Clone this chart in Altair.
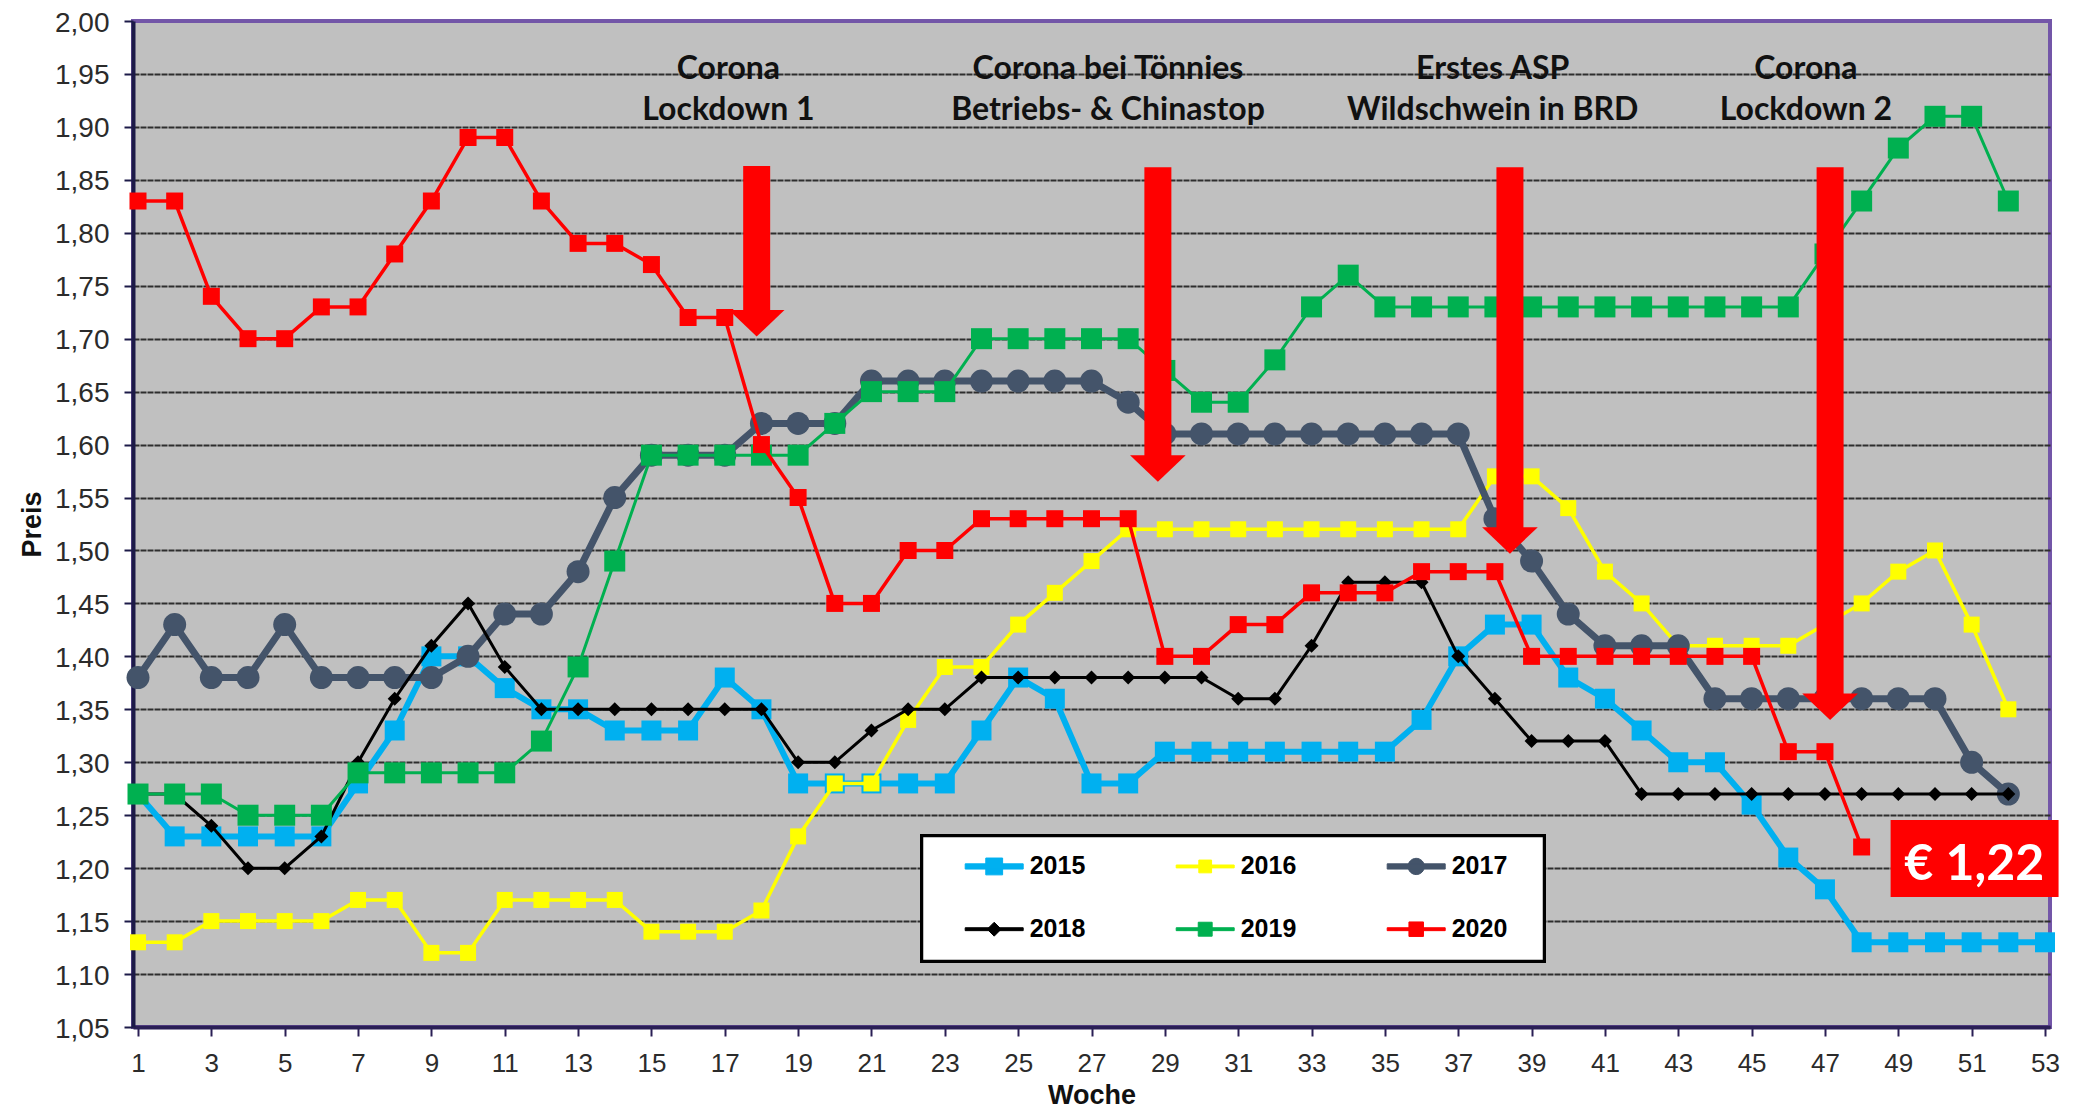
import altair as alt
import pandas as pd

# ---------------- data ----------------
weeks = list(range(1, 54))
years = ["2015", "2016", "2017", "2018", "2019", "2020"]

p2015 = [1.27, 1.23, 1.23, 1.23, 1.23, 1.23, 1.28, 1.33, 1.40, 1.40,
         1.37, 1.35, 1.35, 1.33, 1.33, 1.33, 1.38, 1.35, 1.28, 1.28,
         1.28, 1.28, 1.28, 1.33, 1.38, 1.36, 1.28, 1.28, 1.31, 1.31,
         1.31, 1.31, 1.31, 1.31, 1.31, 1.34, 1.40, 1.43, 1.43, 1.38,
         1.36, 1.33, 1.30, 1.30, 1.26, 1.21, 1.18, 1.13, 1.13, 1.13,
         1.13, 1.13, 1.13]
p2016 = [1.13, 1.13, 1.15, 1.15, 1.15, 1.15, 1.17, 1.17, 1.12, 1.12,
         1.17, 1.17, 1.17, 1.17, 1.14, 1.14, 1.14, 1.16, 1.23, 1.28,
         1.28, 1.34, 1.39, 1.39, 1.43, 1.46, 1.49, 1.52, 1.52, 1.52,
         1.52, 1.52, 1.52, 1.52, 1.52, 1.52, 1.52, 1.57, 1.57, 1.54,
         1.48, 1.45, 1.41, 1.41, 1.41, 1.41, 1.43, 1.45, 1.48, 1.50,
         1.43, 1.35]
p2017 = [1.38, 1.43, 1.38, 1.38, 1.43, 1.38, 1.38, 1.38, 1.38, 1.40,
         1.44, 1.44, 1.48, 1.55, 1.59, 1.59, 1.59, 1.62, 1.62, 1.62,
         1.66, 1.66, 1.66, 1.66, 1.66, 1.66, 1.66, 1.64, 1.61, 1.61,
         1.61, 1.61, 1.61, 1.61, 1.61, 1.61, 1.61, 1.53, 1.49, 1.44,
         1.41, 1.41, 1.41, 1.36, 1.36, 1.36, 1.36, 1.36, 1.36, 1.36,
         1.30, 1.27]
p2018 = [1.27, 1.27, 1.24, 1.20, 1.20, 1.23, 1.30, 1.36, 1.41, 1.45,
         1.39, 1.35, 1.35, 1.35, 1.35, 1.35, 1.35, 1.35, 1.30, 1.30,
         1.33, 1.35, 1.35, 1.38, 1.38, 1.38, 1.38, 1.38, 1.38, 1.38,
         1.36, 1.36, 1.41, 1.47, 1.47, 1.47, 1.40, 1.36, 1.32, 1.32,
         1.32, 1.27, 1.27, 1.27, 1.27, 1.27, 1.27, 1.27, 1.27, 1.27,
         1.27, 1.27]
p2019 = [1.27, 1.27, 1.27, 1.25, 1.25, 1.25, 1.29, 1.29, 1.29, 1.29,
         1.29, 1.32, 1.39, 1.49, 1.59, 1.59, 1.59, 1.59, 1.59, 1.62,
         1.65, 1.65, 1.65, 1.70, 1.70, 1.70, 1.70, 1.70, 1.67, 1.64,
         1.64, 1.68, 1.73, 1.76, 1.73, 1.73, 1.73, 1.73, 1.73, 1.73,
         1.73, 1.73, 1.73, 1.73, 1.73, 1.73, 1.78, 1.83, 1.88, 1.91,
         1.91, 1.83]
p2020 = [1.83, 1.83, 1.74, 1.70, 1.70, 1.73, 1.73, 1.78, 1.83, 1.89,
         1.89, 1.83, 1.79, 1.79, 1.77, 1.72, 1.72, 1.60, 1.55, 1.45,
         1.45, 1.50, 1.50, 1.53, 1.53, 1.53, 1.53, 1.53, 1.40, 1.40,
         1.43, 1.43, 1.46, 1.46, 1.46, 1.48, 1.48, 1.48, 1.40, 1.40,
         1.40, 1.40, 1.40, 1.40, 1.40, 1.31, 1.31, 1.22]

y_ticks = [round(1.05 + 0.05 * i, 2) for i in range(20)]

# annotations (arrows / texts / price label)
arrow_week = [17.87, 28.81, 38.41, 47.14]
arrow_top = [1.863, 1.862, 1.862, 1.862]
arrow_tip = [1.702, 1.565, 1.497, 1.340]

ann_week = [17.1, 27.45, 37.94, 46.48]
ann_line1 = ["Corona", "Corona bei Tönnies", "Erstes ASP", "Corona"]
ann_line2 = ["Lockdown 1", "Betriebs- & Chinastop", "Wildschwein in BRD", "Lockdown 2"]
ann_base1 = 1.9456
ann_base2 = 1.9069

price_text = ["€ 1,22"]
price_week = [51.07]
price_base = [1.1885]
price_box_w1 = [48.79]
price_box_w2 = [53.37]
price_box_v1 = [1.1728]
price_box_v2 = [1.2455]

# ---------------- styles ----------------
series = dict(zip(years, [p2015, p2016, p2017, p2018, p2019, p2020]))
colors = ["#00B0F0", "#FFFF00", "#44546A", "#000000", "#00B050", "#FF0000"]
line_w = [6, 3.5, 7, 3, 3, 3.5]
shapes = ["square", "square", "circle", "diamond", "square", "square"]
sizes = [400, 256, 529, 196, 441, 289]


def sq_line(t, s):
    return f"M-1,{-t}H1V{t}H-1Z M{-s},{-s}H{s}V{s}H{-s}Z"


def circ_line(t, r):
    return f"M-1,{-t}H1V{t}H-1Z M{r},0A{r},{r} 0 1,1 {-r},0A{r},{r} 0 1,1 {r},0Z"


def dia_line(t, d):
    return f"M-1,{-t}H1V{t}H-1Z M0,{-d}L{d},0L0,{d}L{-d},0Z"


legend_paths = [sq_line(0.09, 0.29), sq_line(0.05, 0.22), circ_line(0.09, 0.28),
                dia_line(0.05, 0.24), sq_line(0.05, 0.24), sq_line(0.05, 0.25)]

rows = []
for yr in years:
    for w, v in zip(weeks, series[yr]):
        rows.append({"week": w, "value": v, "year": yr})
df = pd.DataFrame(rows)

arrows_df = pd.DataFrame({"week": arrow_week, "top": arrow_top, "tip": arrow_tip})
ann_df = pd.DataFrame({
    "week": ann_week + ann_week,
    "value": [ann_base1] * len(ann_week) + [ann_base2] * len(ann_week),
    "txt": ann_line1 + ann_line2,
})
price_df = pd.DataFrame({"w1": price_box_w1, "w2": price_box_w2, "v1": price_box_v1,
                         "v2": price_box_v2, "week": price_week, "value": price_base,
                         "txt": price_text})

W, H = 1917, 1006
xscale = alt.Scale(domain=[1, 53], nice=False, zero=False)
yscale = alt.Scale(domain=[1.05, 2.0], nice=False, zero=False)

x_axis = alt.Axis(values=weeks, labelExpr="datum.value % 2 == 1 ? datum.label : ''",
                  grid=False, tickSize=9, tickWidth=2, tickColor="#2a1f55",
                  domainColor="#2a1f55", domainWidth=4,
                  labelFont="Liberation Sans", labelFontSize=26, labelColor="#2b2b2b",
                  labelPadding=14, labelOverlap=False, labelFlush=False,
                  titleFont="Liberation Sans", titleFontSize=27, titleFontWeight="bold",
                  titleColor="#111111", titlePadding=6)
y_axis = alt.Axis(values=y_ticks, labelExpr="replace(format(datum.value, '.2f'), '.', ',')",
                  grid=True,
                  gridColor={"condition": {"test": "datum.value > 1.99", "value": "transparent"},
                             "value": "#2e2e2e"},
                  gridWidth=2, gridDash=[6, 1],
                  tickSize=9, tickWidth=2, tickColor="#1c1a48",
                  domainColor="#1c1a48", domainWidth=4,
                  labelFont="Liberation Sans", labelFontSize=28, labelColor="#2b2b2b",
                  labelBaseline="alphabetic", labelOffset=10,
                  labelPadding=15, labelOverlap=False, labelFlush=False,
                  titleFont="Liberation Sans", titleFontSize=27, titleFontWeight="bold",
                  titleColor="#111111", titlePadding=8)

X = alt.X("week:Q", scale=xscale, axis=x_axis, title="Woche")
Y = alt.Y("value:Q", scale=yscale, axis=y_axis, title="Preis")

base = alt.Chart(df).encode(x=X, y=Y)
layers = []
for i, yr in enumerate(years):
    b = base.transform_filter(alt.datum.year == yr)
    layers.append(b.mark_line(color=colors[i], strokeWidth=line_w[i]))
    layers.append(b.mark_point(shape=shapes[i], size=sizes[i], filled=True,
                               color=colors[i], opacity=1))

# arrows
arrow_base = alt.Chart(arrows_df)
layers.append(arrow_base.mark_bar(width=27, color="#FF0000", y2Offset=-24).encode(
    x=alt.X("week:Q", scale=xscale), y=alt.Y("top:Q", scale=yscale), y2="tip:Q"))
layers.append(arrow_base.mark_point(shape="M-1,-0.95H1L0,0Z", size=3100, filled=True,
                                    color="#FF0000", opacity=1).encode(
    x=alt.X("week:Q", scale=xscale), y=alt.Y("tip:Q", scale=yscale)))

# annotation texts
layers.append(alt.Chart(ann_df).mark_text(font="Lato", fontWeight="bold", fontSize=32,
                                          color="#111111", baseline="alphabetic",
                                          align="center").encode(
    x=alt.X("week:Q", scale=xscale), y=alt.Y("value:Q", scale=yscale), text="txt:N"))

# price label
layers.append(alt.Chart(price_df).mark_rect(color="#FF0000").encode(
    x=alt.X("w1:Q", scale=xscale), x2="w2:Q", y=alt.Y("v1:Q", scale=yscale), y2="v2:Q"))
layers.append(alt.Chart(price_df).mark_text(font="Lato", fontWeight="bold", fontSize=50,
                                            color="#FFFFFF", baseline="alphabetic",
                                            align="center").encode(
    x=alt.X("week:Q", scale=xscale), y=alt.Y("value:Q", scale=yscale), text="txt:N"))

# legend frame
layers.append(alt.Chart(df).mark_rect(fill="#FFFFFF", stroke="#000000", strokeWidth=2.5).encode(
    x=alt.value(789), x2=alt.value(1411), y=alt.value(815), y2=alt.value(940)))

# legend (native, carried by an invisible layer)
leg = alt.Legend(orient="none", legendX=831.7, legendY=815.7, direction="horizontal",
                 columns=3, symbolSize=3364, symbolStrokeWidth=1, symbolOpacity=1,
                 labelFont="Liberation Sans", labelFontSize=25, labelFontWeight="bold",
                 labelColor="#000000", labelOffset=6, columnPadding=88, rowPadding=20,
                 padding=0, labelLimit=0)
layers.append(alt.Chart(df).mark_point(filled=True, opacity=0).encode(
    x=X, y=Y,
    fill=alt.Fill("year:N", scale=alt.Scale(domain=years, range=colors), legend=leg, title=None),
    stroke=alt.Stroke("year:N", scale=alt.Scale(domain=years, range=colors), legend=leg, title=None),
    shape=alt.Shape("year:N", scale=alt.Scale(domain=years, range=legend_paths), legend=leg, title=None),
))

chart = alt.layer(*layers).properties(
    width=W, height=H,
    autosize=alt.AutoSizeParams(type="none"),
    padding={"left": 125, "top": 13, "right": 24, "bottom": 82},
    background="white",
).configure_view(fill="#C0C0C0", stroke="#7356a8", strokeWidth=4)

chart.save("out.html", embed_options={"renderer": "svg", "actions": False})
